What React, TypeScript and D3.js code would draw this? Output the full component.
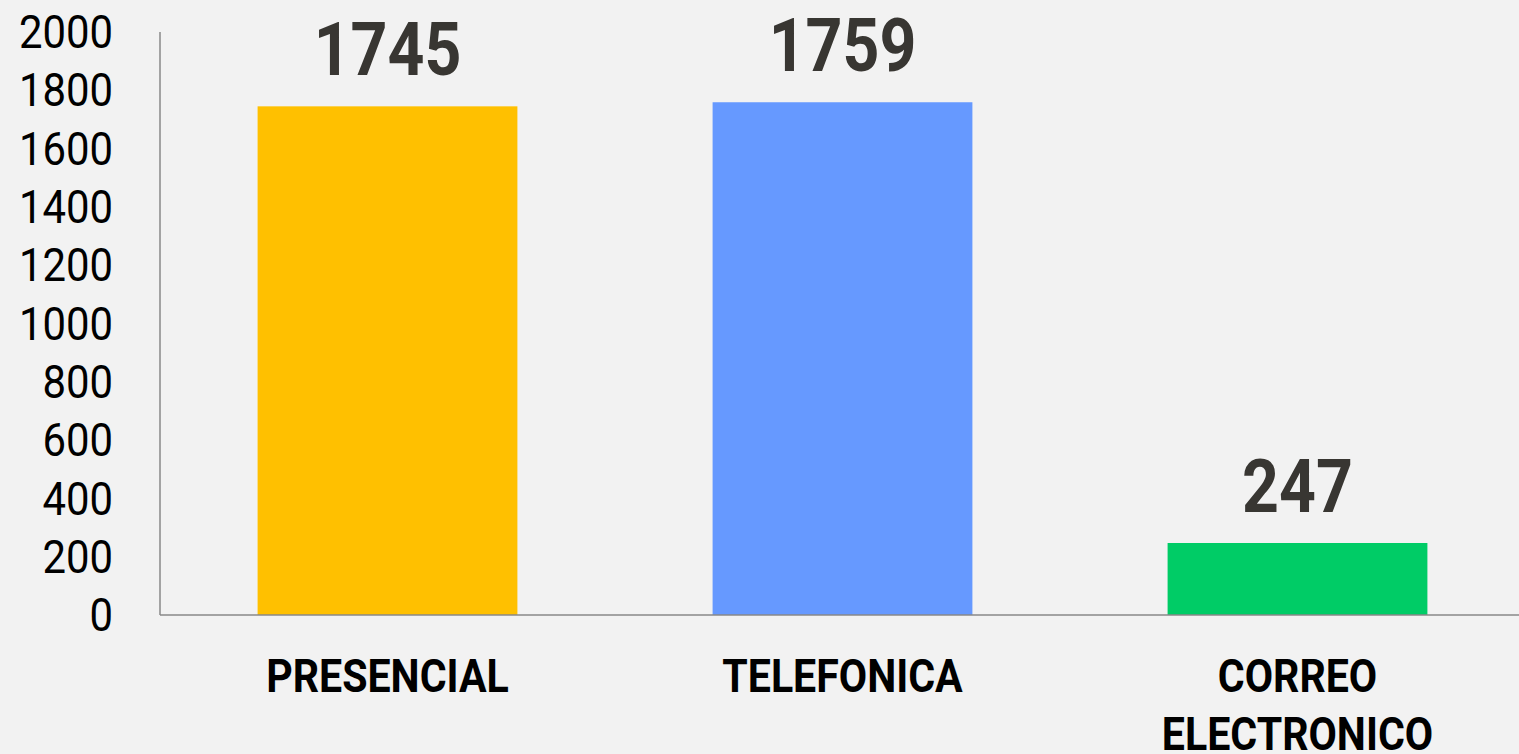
import React, { useRef, useEffect } from "react";
import * as d3 from "d3";

const categories = ["PRESENCIAL", "TELEFONICA", "CORREO ELECTRONICO"];
const values = [1745, 1759, 247];
const colors = ["#FFC000", "#6699FF", "#00CC66"];
const yTicks = [0, 200, 400, 600, 800, 1000, 1200, 1400, 1600, 1800, 2000];

const W = 1519;
const H = 754;
const FONT = "'Liberation Sans Narrow', 'Arial Narrow', Roboto, sans-serif";

const App = () => {
  const ref = useRef<SVGSVGElement>(null);

  useEffect(() => {
    document.body.style.margin = "0";
    document.body.style.background = "#f2f2f2";

    const svg = d3.select(ref.current);
    svg.selectAll("*").remove();

    const margin = { left: 160, top: 32, bottom: 139 };

    // bands run a little past the right edge, like the original
    const x = d3
      .scaleBand()
      .domain(categories)
      .range([margin.left, W + 6])
      .paddingInner(0.429)
      .paddingOuter(0.2145);

    const y = d3.scaleLinear().domain([0, 2000]).range([H - margin.bottom, margin.top]);

    svg.append("rect").attr("width", W).attr("height", H).attr("fill", "#f2f2f2");

    // bars
    svg
      .selectAll("rect.bar")
      .data(categories)
      .join("rect")
      .attr("class", "bar")
      .attr("x", (d) => x(d)!)
      .attr("width", x.bandwidth())
      .attr("y", (d, i) => y(values[i]))
      .attr("height", (d, i) => y(0) - y(values[i]))
      .attr("fill", (d, i) => colors[i]);

    // axis lines
    svg
      .append("line")
      .attr("x1", margin.left)
      .attr("x2", margin.left)
      .attr("y1", y(2000))
      .attr("y2", y(0))
      .attr("stroke", "#898989")
      .attr("stroke-width", 1.5);
    svg
      .append("line")
      .attr("x1", margin.left)
      .attr("x2", W)
      .attr("y1", y(0))
      .attr("y2", y(0))
      .attr("stroke", "#898989")
      .attr("stroke-width", 1.5);

    // y tick labels
    svg
      .selectAll("text.ytick")
      .data(yTicks)
      .join("text")
      .attr("class", "ytick")
      .attr("transform", (d) => `translate(113,${y(d)}) scale(0.91,1)`)
      .attr("dy", "0.35em")
      .attr("text-anchor", "end")
      .attr("font-family", FONT)
      .attr("font-size", 46)
      .attr("fill", "#000")
      .text((d) => d);

    // value labels
    svg
      .selectAll("text.val")
      .data(categories)
      .join("text")
      .attr("class", "val")
      .attr(
        "transform",
        (d, i) => `translate(${x(d)! + x.bandwidth() / 2},${y(values[i]) - 31}) scale(0.87,1)`
      )
      .attr("text-anchor", "middle")
      .attr("font-family", FONT)
      .attr("font-weight", "bold")
      .attr("font-size", 74)
      .attr("fill", "#383632")
      .text((d, i) => values[i]);

    // category labels (long one wraps on its space)
    svg
      .selectAll("text.cat")
      .data(categories)
      .join("text")
      .attr("class", "cat")
      .attr("transform", (d) => `translate(${x(d)! + x.bandwidth() / 2},692) scale(0.875,1)`)
      .attr("text-anchor", "middle")
      .attr("font-family", FONT)
      .attr("font-weight", "bold")
      .attr("font-size", 47)
      .attr("fill", "#000")
      .each(function (d) {
        const words = d.length > 12 ? d.split(" ") : [d];
        const t = d3.select(this);
        words.forEach((w, k) => {
          t.append("tspan")
            .attr("x", 0)
            .attr("y", k * 58)
            .text(w);
        });
      });
  }, []);

  return <svg ref={ref} width={W} height={H} style={{ display: "block" }} />;
};

export default App;
